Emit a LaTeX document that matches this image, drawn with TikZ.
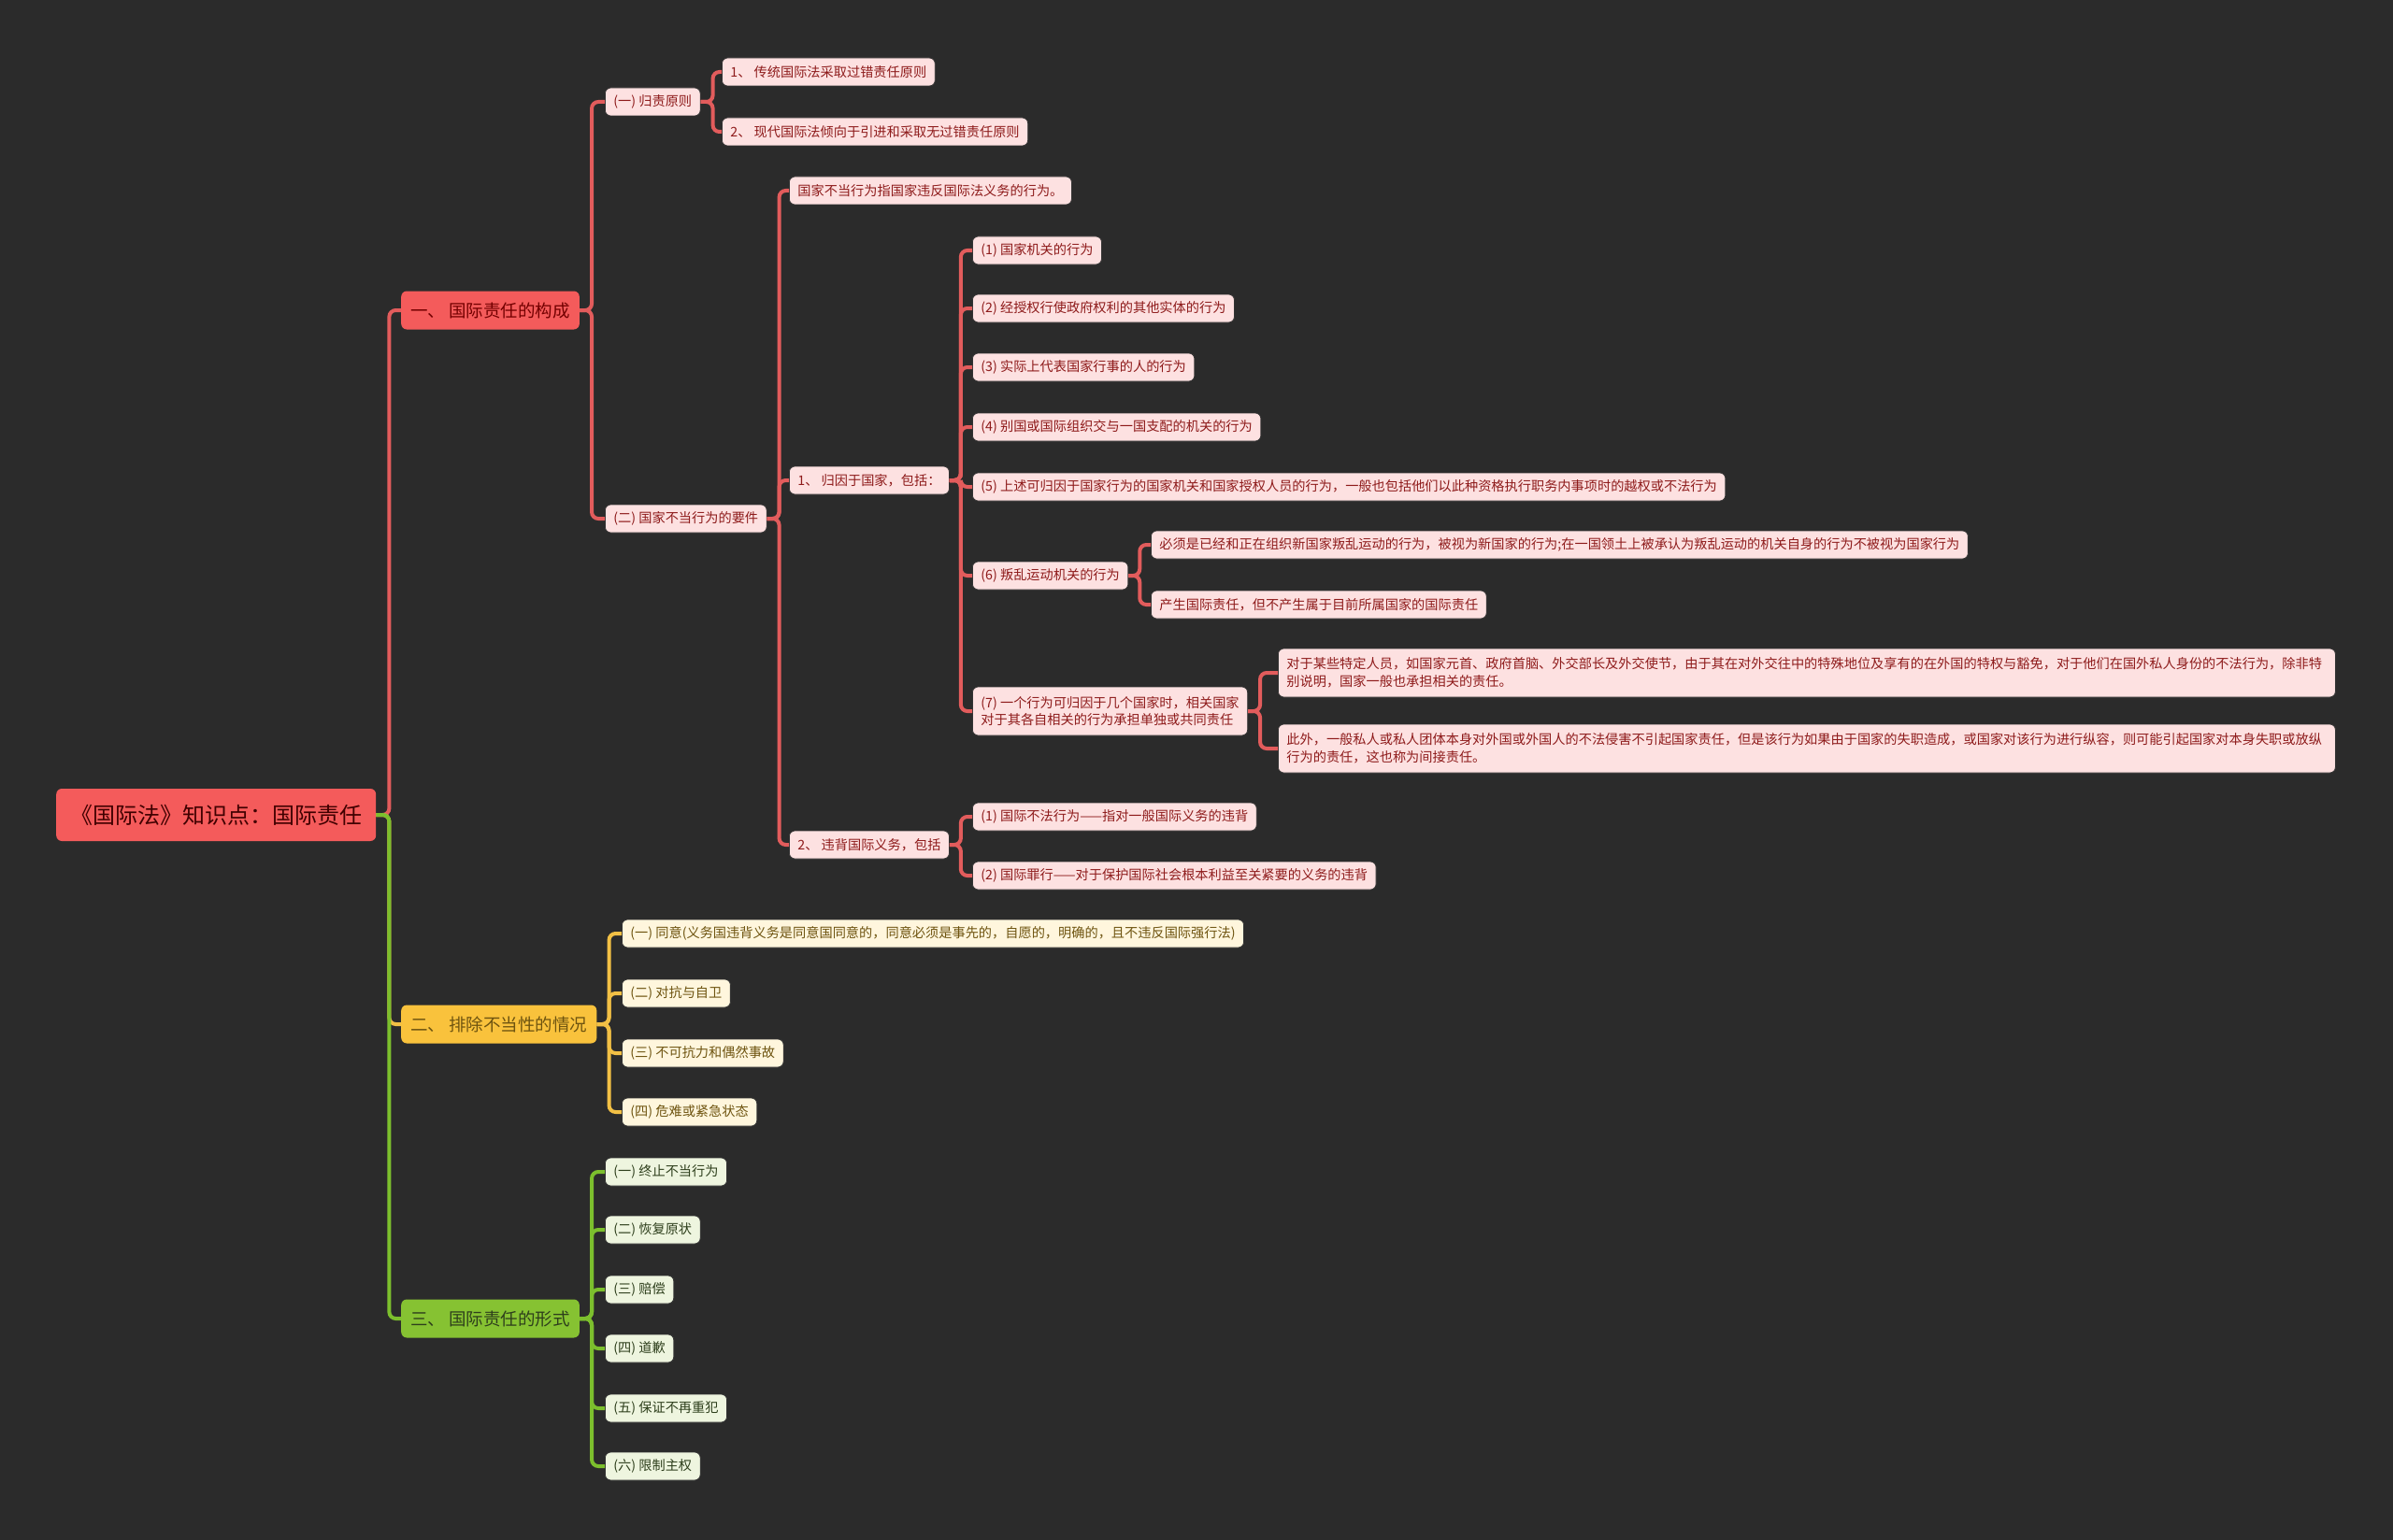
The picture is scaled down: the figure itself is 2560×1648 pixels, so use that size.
\documentclass[tikz,border=0pt]{standalone}
\usepackage{fontspec}
\newfontfamily\cjk{Noto Sans CJK SC}
\usepackage{xcolor}
\usepackage{tikz}
\usetikzlibrary{positioning}

\definecolor{bgdark}{HTML}{2B2B2B}
\definecolor{mainred}{HTML}{F45B5B}
\definecolor{redtext}{HTML}{8E1B1B}
\definecolor{redleaf}{HTML}{FDE1E1}
\definecolor{redline}{HTML}{E25C5C}
\definecolor{mainyellow}{HTML}{F9C23C}
\definecolor{yellowtext}{HTML}{6E5410}
\definecolor{yellowleaf}{HTML}{FFF6DD}
\definecolor{yellowline}{HTML}{F2C045}
\definecolor{maingreen}{HTML}{86C232}
\definecolor{greentext}{HTML}{2E3F1C}
\definecolor{greenleaf}{HTML}{EEF5DF}
\definecolor{greenline}{HTML}{7CBF2D}

\begin{document}
\begin{tikzpicture}[x=1pt, y=-1pt,
  base/.style={anchor=west, rounded corners=6, inner ysep=0pt},
  rootbox/.style={base, fill=mainred, text=black!75!red, font=\cjk\fontsize{24}{28}\selectfont,
    minimum height=56, inner xsep=15},
  topic/.style={base, font=\cjk\fontsize{18.5}{22}\selectfont, minimum height=41, inner xsep=10},
  leaf/.style={base, font=\cjk\fontsize{14.2}{18.7}\selectfont, minimum height=30, inner xsep=9,
    draw=black!80, line width=0.8},
  rtopic/.style={topic, fill=mainred, text=black!55!red},
  ytopic/.style={topic, fill=mainyellow, text=yellowtext},
  gtopic/.style={topic, fill=maingreen, text=greentext},
  rleaf/.style={leaf, fill=redleaf, text=redtext},
  yleaf/.style={leaf, fill=yellowleaf, text=yellowtext},
  gleaf/.style={leaf, fill=greenleaf, text=greentext},
  rlink/.style={draw=redline, line width=4, rounded corners=7},
  ylink/.style={draw=yellowline, line width=4, rounded corners=7},
  glink/.style={draw=greenline, line width=4, rounded corners=7}
]
  \fill[bgdark] (0,0) rectangle (2560,1648);
  \useasboundingbox (0,0) rectangle (2560,1648);

  % root and main topics
  \node[rootbox] (root) at (60,872) {《国际法》知识点：国际责任};
  \node[rtopic] (t1) at (429,332) {一、 国际责任的构成};
  \node[ytopic] (t2) at (429,1096) {二、 排除不当性的情况};
  \node[gtopic] (t3) at (429,1411) {三、 国际责任的形式};

  % 一、 国际责任的构成
  \node[rleaf] (p1) at (647,109) {(一) 归责原则};
  \node[rleaf] (p2) at (647,555) {(二) 国家不当行为的要件};
  \node[rleaf] (p11) at (772,77) {1、 传统国际法采取过错责任原则};
  \node[rleaf] (p12) at (772,141) {2、 现代国际法倾向于引进和采取无过错责任原则};
  \node[rleaf] (p21) at (844,204) {国家不当行为指国家违反国际法义务的行为。};
  \node[rleaf] (p22) at (844,514) {1、 归因于国家，包括：};
  \node[rleaf] (p23) at (844,904) {2、 违背国际义务，包括};

  \node[rleaf] (g1) at (1040,268) {(1) 国家机关的行为};
  \node[rleaf] (g2) at (1040,330) {(2) 经授权行使政府权利的其他实体的行为};
  \node[rleaf] (g3) at (1040,393) {(3) 实际上代表国家行事的人的行为};
  \node[rleaf] (g4) at (1040,457) {(4) 别国或国际组织交与一国支配的机关的行为};
  \node[rleaf] (g5) at (1040,521) {(5) 上述可归因于国家行为的国家机关和国家授权人员的行为，一般也包括他们以此种资格执行职务内事项时的越权或不法行为};
  \node[rleaf] (g6) at (1040,616) {(6) 叛乱运动机关的行为};
  \node[rleaf, align=left, minimum height=52] (g7) at (1040,761) {(7) 一个行为可归因于几个国家时，相关国家\\对于其各自相关的行为承担单独或共同责任};

  \node[rleaf] (g6a) at (1231,583) {必须是已经和正在组织新国家叛乱运动的行为，被视为新国家的行为;在一国领土上被承认为叛乱运动的机关自身的行为不被视为国家行为};
  \node[rleaf] (g6b) at (1231,647) {产生国际责任，但不产生属于目前所属国家的国际责任};
  \node[rleaf, align=left, text width=1113, minimum height=52] (g7a) at (1367,720) {对于某些特定人员，如国家元首、政府首脑、外交部长及外交使节，由于其在对外交往中的特殊地位及享有的在外国的特权与豁免，对于他们在国外私人身份的不法行为，除非特\\别说明，国家一般也承担相关的责任。};
  \node[rleaf, align=left, text width=1113, minimum height=52] (g7b) at (1367,801) {此外，一般私人或私人团体本身对外国或外国人的不法侵害不引起国家责任，但是该行为如果由于国家的失职造成，或国家对该行为进行纵容，则可能引起国家对本身失职或放纵\\行为的责任，这也称为间接责任。};

  \node[rleaf] (v1) at (1040,874) {(1) 国际不法行为——指对一般国际义务的违背};
  \node[rleaf] (v2) at (1040,937) {(2) 国际罪行——对于保护国际社会根本利益至关紧要的义务的违背};

  % 二、 排除不当性的情况
  \node[yleaf] (e1) at (665,999) {(一) 同意(义务国违背义务是同意国同意的，同意必须是事先的，自愿的，明确的，且不违反国际强行法)};
  \node[yleaf] (e2) at (665,1063) {(二) 对抗与自卫};
  \node[yleaf] (e3) at (665,1127) {(三) 不可抗力和偶然事故};
  \node[yleaf] (e4) at (665,1190) {(四) 危难或紧急状态};

  % 三、 国际责任的形式
  \node[gleaf] (f1) at (647,1254) {(一) 终止不当行为};
  \node[gleaf] (f2) at (647,1316) {(二) 恢复原状};
  \node[gleaf] (f3) at (647,1380) {(三) 赔偿};
  \node[gleaf] (f4) at (647,1443) {(四) 道歉};
  \node[gleaf] (f5) at (647,1507) {(五) 保证不再重犯};
  \node[gleaf] (f6) at (647,1569) {(六) 限制主权};

  % connectors
  \draw[rlink] (root.east) -- ++(14,0) |- (t1.west);
  \draw[ylink] (root.east) -- ++(14,0) |- (t2.west);
  \draw[glink] (root.east) -- ++(14,0) |- (t3.west);

  \draw[rlink] (t1.east) -- ++(13,0) |- (p1.west);
  \draw[rlink] (t1.east) -- ++(13,0) |- (p2.west);
  \draw[rlink] (p1.east) -- ++(13,0) |- (p11.west);
  \draw[rlink] (p1.east) -- ++(13,0) |- (p12.west);
  \draw[rlink] (p2.east) -- ++(13,0) |- (p21.west);
  \draw[rlink] (p2.east) -- ++(13,0) |- (p22.west);
  \draw[rlink] (p2.east) -- ++(13,0) |- (p23.west);
  \draw[rlink] (p22.east) -- ++(12,0) |- (g1.west);
  \draw[rlink] (p22.east) -- ++(12,0) |- (g2.west);
  \draw[rlink] (p22.east) -- ++(12,0) |- (g3.west);
  \draw[rlink] (p22.east) -- ++(12,0) |- (g4.west);
  \draw[rlink] (p22.east) -- ++(12,0) |- (g5.west);
  \draw[rlink] (p22.east) -- ++(12,0) |- (g6.west);
  \draw[rlink] (p22.east) -- ++(12,0) |- (g7.west);
  \draw[rlink] (g6.east) -- ++(12,0) |- (g6a.west);
  \draw[rlink] (g6.east) -- ++(12,0) |- (g6b.west);
  \draw[rlink] (g7.east) -- ++(13,0) |- (g7a.west);
  \draw[rlink] (g7.east) -- ++(13,0) |- (g7b.west);
  \draw[rlink] (p23.east) -- ++(12,0) |- (v1.west);
  \draw[rlink] (p23.east) -- ++(12,0) |- (v2.west);

  \draw[ylink] (t2.east) -- ++(13,0) |- (e1.west);
  \draw[ylink] (t2.east) -- ++(13,0) |- (e2.west);
  \draw[ylink] (t2.east) -- ++(13,0) |- (e3.west);
  \draw[ylink] (t2.east) -- ++(13,0) |- (e4.west);

  \draw[glink] (t3.east) -- ++(13,0) |- (f1.west);
  \draw[glink] (t3.east) -- ++(13,0) |- (f2.west);
  \draw[glink] (t3.east) -- ++(13,0) |- (f3.west);
  \draw[glink] (t3.east) -- ++(13,0) |- (f4.west);
  \draw[glink] (t3.east) -- ++(13,0) |- (f5.west);
  \draw[glink] (t3.east) -- ++(13,0) |- (f6.west);
\end{tikzpicture}
\end{document}
